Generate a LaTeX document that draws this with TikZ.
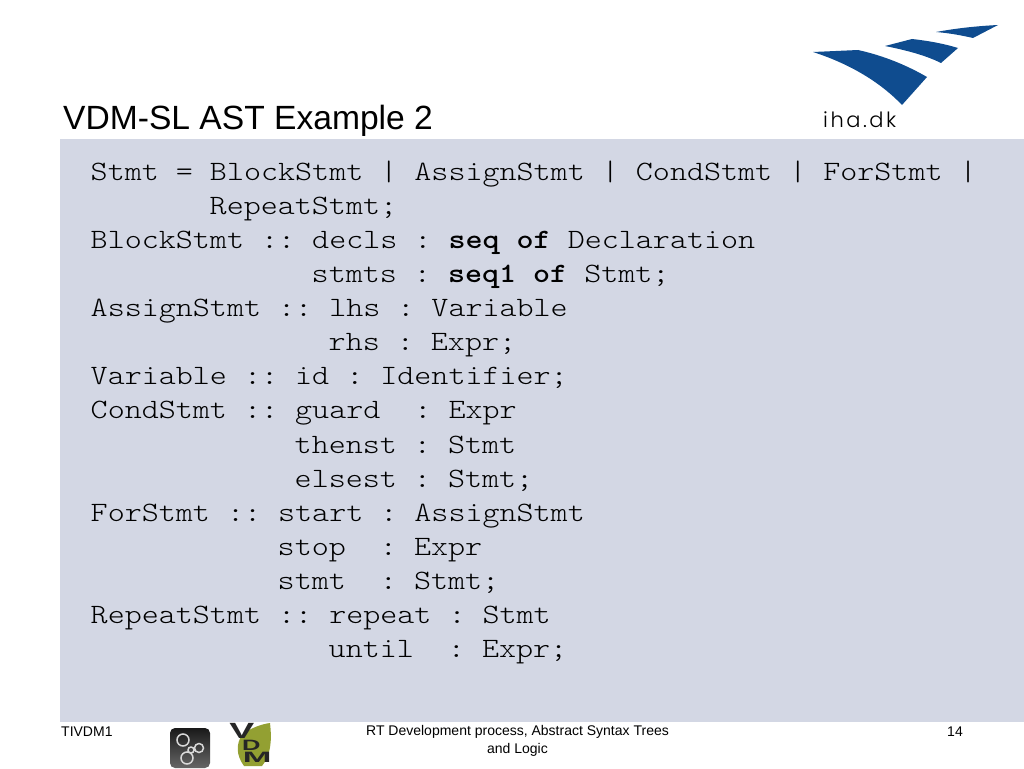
\documentclass[tikz,border=0pt]{standalone}
\usepackage{graphicx}
\usepackage{fontspec}
\setmainfont{Liberation Sans}
\setmonofont[BoldFont={Latin Modern Mono Light/B}]{Latin Modern Mono Light}
\newfontfamily\ihafont[LetterSpace=12]{Poppins Light}
\definecolor{panelblau}{HTML}{D3D7E4}
\definecolor{logoblau}{HTML}{0F4C8F}
\definecolor{blatt}{HTML}{93A032}
\tikzset{
	titel/.style={anchor=base west,inner sep=0pt,font=\fontsize{33.6}{38}\selectfont},
	zeile/.style={anchor=base west,inner sep=0pt,xscale=1.159,font=\fontsize{28}{34}\ttfamily},
	fuss/.style={inner sep=0pt,font=\fontsize{14}{17.5}\selectfont},
	vdm/.style={inner sep=0pt,align=left,xscale=1.7,font=\fontsize{15}{12}\bfseries\selectfont,text=black!85}
}
\begin{document}
\begin{tikzpicture}[x=1pt,y=-1pt]

\def\zeile#1#2#3#4{
	\node[zeile] (#1) at ({90.5+17*#3},{180+34.13*#2}) {#4};
}

\useasboundingbox (0,0) rectangle (1024,768);
\fill[color=panelblau] (60,139) rectangle (1024,722);

\node[titel] (title) at (63,129.5) {VDM-SL AST Example 2};

% logo
\fill[color=logoblau] (813,52) -- (858,50) .. controls (885,56) and (908,66) .. (927,77)
	-- (902,105) .. controls (880,82) and (850,64) .. cycle;
\fill[color=logoblau] (885,46) -- (912,39) .. controls (930,41) and (945,44) .. (958,48)
	-- (941,63) .. controls (925,55) and (905,50) .. cycle;
\fill[color=logoblau] (936,32) .. controls (958,28) and (978,26) .. (998,25)
	-- (973,38) .. controls (960,35) and (948,33) .. cycle;
\node[anchor=base west,inner sep=0pt,font=\fontsize{21}{21}\ihafont] (iha) at (823,127) {iha.dk};

% code
\zeile{stmt}{0}{0}{Stmt = BlockStmt | AssignStmt | CondStmt | ForStmt |}
\zeile{repeat}{1}{7}{RepeatStmt;}
\zeile{block}{2}{0}{BlockStmt :: decls : \textbf{seq of} Declaration}
\zeile{stmts}{3}{13}{stmts : \textbf{seq1 of} Stmt;}
\zeile{assign}{4}{0}{AssignStmt :: lhs : Variable}
\zeile{rhs}{5}{14}{rhs : Expr;}
\zeile{var}{6}{0}{Variable :: id : Identifier;}
\zeile{cond}{7}{0}{CondStmt :: guard~~: Expr}
\zeile{thenst}{8}{12}{thenst : Stmt}
\zeile{elsest}{9}{12}{elsest : Stmt;}
\zeile{for}{10}{0}{ForStmt :: start : AssignStmt}
\zeile{stop}{11}{11}{stop~~: Expr}
\zeile{body}{12}{11}{stmt~~: Stmt;}
\zeile{rep}{13}{0}{RepeatStmt :: repeat : Stmt}
\zeile{until}{14}{14}{until~~: Expr;}

% footer
\node[fuss,anchor=base west] (kurs) at (61,736) {TIVDM1};
\node[fuss,align=center] (thema) at (517.5,741) {RT Development process, Abstract Syntax Trees\\and Logic};
\node[fuss,anchor=base] (seite) at (955,736) {14};

% icons
\shade[rounded corners=5pt,top color=black!90,bottom color=black!60] (170,728) rectangle (210,768);
\draw[white!85!black,line width=1.5pt] (183,740) circle[radius=6] (191,750) circle[radius=3] (199,748) circle[radius=4.5] (187,758) circle[radius=6];
\fill[color=blatt] (242,735) .. controls (250,728) and (262,724) .. (270,723)
	.. controls (272,740) and (271,755) .. (262,766) -- (244,766) .. controls (236,755) and (236,744) .. cycle;
\node[vdm,anchor=north west] (vdmlogo) at (229,723.5) {{\fontsize{22}{12}\selectfont V}\\\hspace{7.5pt}D\\\hspace{8pt}\scalebox{1.35}[1]{M}};

\end{tikzpicture}
\end{document}
